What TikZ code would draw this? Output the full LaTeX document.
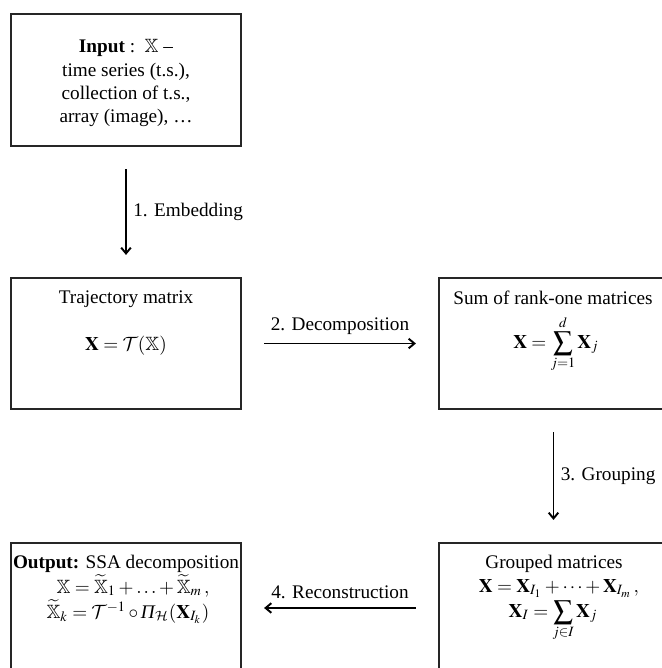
\documentclass[tikz,border=0pt]{standalone}
\usepackage{amsmath,amssymb}
\usepackage{mathptmx}
\usepackage[no-math]{fontspec}
\setmainfont{Liberation Serif}
\DeclareMathAlphabet{\mathcal}{OMS}{cmsy}{m}{n}
\usetikzlibrary{arrows.meta}

\tikzset{
    box/.style 2 args={draw=black!85, line width=1pt, inner sep=0pt,
        minimum width=#1*0.52pt, minimum height=#2*0.52pt},
    txt/.style={anchor=base, inner sep=0pt},
    arr/.style={line width=1pt, -{Straight Barb[length=3pt,width=5pt]},
        shorten <=11.5pt, shorten >=11.5pt},
}

\begin{document}
\begin{tikzpicture}[x=0.52pt, y=-0.52pt]
        \useasboundingbox (0,0) rectangle (662,668);
        \clip (0,0) rectangle (662,668);

        % boxes
        \node[box={230}{132}] (input)  at (126,80)    {};
        \node[box={230}{131}] (traj)   at (126,343.5) {};
        \node[box={229}{131}] (sum)    at (553.5,343.5) {};
        \node[box={229}{130}] (group)  at (553.5,608) {};
        \node[box={230}{130}] (output) at (126,608)   {};

        % texts
        \node[align=center] (inputtxt) at (126,83)
            {\textbf{Input} :\ \ $\mathbb{X}$ --\\ time series (t.s.),\\
             collection of t.s.,\\ array (image), \ldots};
        \node[txt] (trajtitle) at (126,303) {Trajectory matrix};
        \node[txt] (trajeq) at (126,350) {$\mathbf{X}=\mathcal{T}(\mathbb{X})$};
        \node[txt] (sumtitle) at (553,304) {Sum of rank-one matrices};
        \node[txt] (sumeq) at (556,348) {$\displaystyle \mathbf{X}=\sum_{j=1}^{d}\mathbf{X}_j$};
        \node[txt] (grouptitle) at (554,568) {Grouped matrices};
        \node[txt] (groupeq) at (559,592)
            {$\mathbf{X}=\mathbf{X}_{I_1}+\cdots+\mathbf{X}_{I_m}\,,$};
        \node[txt] (groupsum) at (553,617) {$\displaystyle \mathbf{X}_I=\sum_{j\in I}\mathbf{X}_j$};
        \node[txt] (outtitle) at (126,568) {\textbf{Output:} SSA decomposition};
        \node[txt] (outeq) at (133,593)
            {$\mathbb{X}=\widetilde{\mathbb{X}}_1+\ldots+\widetilde{\mathbb{X}}_m\,,$};
        \node[txt] (outrec) at (128,618)
            {$\widetilde{\mathbb{X}}_k=\mathcal{T}^{-1}\circ\text{\itshape Π}_{\mathcal{H}}(\mathbf{X}_{I_k})$};

        % steps
        \draw[arr] (input) -- (traj) node[midway, right] {1. Embedding};
        \draw[arr] (traj) -- (sum) node[midway, above=1pt] {2. Decomposition};
        \draw[arr] (sum) -- (group) node[midway, right] {3. Grouping};
        \draw[arr] (group) -- (output) node[midway, above=1pt] {4. Reconstruction};
\end{tikzpicture}
\end{document}
